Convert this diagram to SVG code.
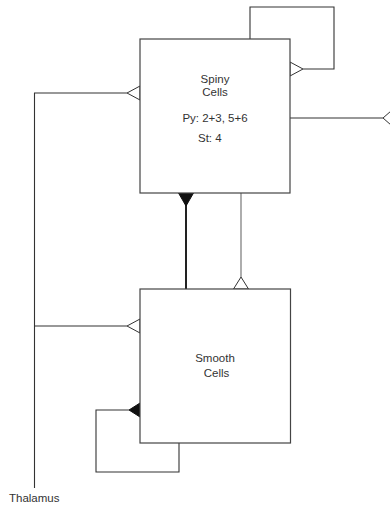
<svg xmlns="http://www.w3.org/2000/svg" width="390" height="506" viewBox="0 0 390 506">
<style>
.box{fill:#fff;stroke:#444;stroke-width:1.2}
.ln{fill:none;stroke:#333;stroke-width:1.1}
.gl{fill:none;stroke:#777;stroke-width:1.2}
.thick{fill:none;stroke:#222;stroke-width:2}
.open{fill:#fff;stroke:#333;stroke-width:1}
.fill{fill:#111;stroke:#111;stroke-width:1}
text{font-family:"Liberation Sans",Arial,sans-serif;font-size:11.5px;fill:#333}
</style>
<rect width="390" height="506" fill="#fff"/>
<g id="connectors">
  <!-- spiny self loop -->
  <polyline class="ln" points="250,39 250,7 334,7 334,69 303,69"/>
  <polygon class="open" points="290,62 303,69 290,76"/>
  <!-- spiny output right -->
  <line class="ln" x1="290" y1="118" x2="383" y2="118"/>
  <polygon class="open" points="391,111 383,118 391,125"/>
  <!-- thalamus -->
  <line class="ln" x1="34.5" y1="93" x2="34.5" y2="488"/>
  <line class="ln" x1="34" y1="93" x2="127" y2="93"/>
  <polygon class="open" points="140,86 127,93 140,100"/>
  <line class="ln" x1="34" y1="326" x2="127" y2="326"/>
  <polygon class="open" points="140,319 127,326 140,333"/>
  <!-- smooth -> spiny (thick, filled) -->
  <line class="thick" x1="186" y1="200" x2="186" y2="289"/>
  <polygon class="fill" points="178.5,193 193.5,193 186,206"/>
  <!-- spiny -> smooth (gray, open) -->
  <line class="gl" x1="241" y1="193" x2="241" y2="277"/>
  <polygon class="open" points="233.5,289 248.5,289 241,277"/>
  <!-- smooth self loop -->
  <polyline class="ln" points="179,443 179,472 96,472 96,410 129,410"/>
  <polygon class="fill" points="140,403 129,410 140,417"/>
</g>
<g id="spiny">
  <rect class="box" x="140" y="39" width="150" height="154"/>
  <text x="215" y="83" text-anchor="middle">Spiny</text>
  <text x="215" y="96" text-anchor="middle">Cells</text>
  <text x="215" y="122" text-anchor="middle">Py: 2+3, 5+6</text>
  <text x="198" y="142">St: 4</text>
</g>
<g id="smooth">
  <rect class="box" x="140" y="289" width="150.5" height="154"/>
  <text x="215" y="362" text-anchor="middle">Smooth</text>
  <text x="216.5" y="377" text-anchor="middle">Cells</text>
</g>
<g id="thalamus">
  <text x="9" y="502">Thalamus</text>
</g>
</svg>
